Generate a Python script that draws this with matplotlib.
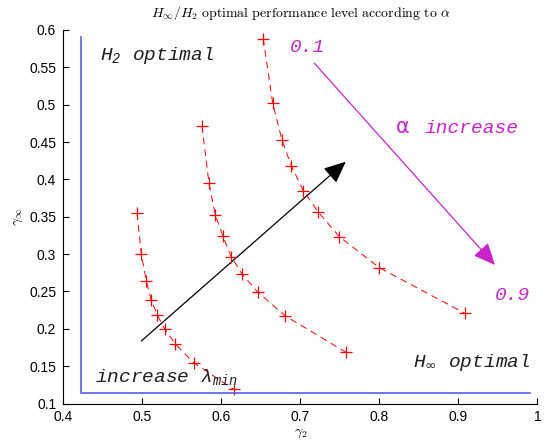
import numpy as np
import matplotlib
matplotlib.use('Agg')
import matplotlib.pyplot as plt
from matplotlib.patches import FancyArrowPatch

plt.rcParams['mathtext.fontset'] = 'custom'
plt.rcParams['mathtext.it'] = 'Liberation Mono:italic'
plt.rcParams['mathtext.rm'] = 'Liberation Mono:italic'
plt.rcParams['mathtext.sf'] = 'DejaVu Sans'

# gamma_2 / gamma_inf for three lambda_min values (alpha from 0.1 to 0.9)
g2_a = [0.4935, 0.4989, 0.5052, 0.5112, 0.5191, 0.5284, 0.5419, 0.5650, 0.6155]
ginf_a = [0.3546, 0.3001, 0.2640, 0.2390, 0.2185, 0.2001, 0.1797, 0.1547, 0.1190]
g2_b = [0.5756, 0.5845, 0.5924, 0.6021, 0.6126, 0.6262, 0.6464, 0.6812, 0.7579]
ginf_b = [0.4715, 0.3948, 0.3530, 0.3242, 0.2965, 0.2734, 0.2489, 0.2171, 0.1685]
g2_c = [0.6531, 0.6651, 0.6768, 0.6887, 0.7040, 0.7229, 0.7495, 0.8000, 0.9083]
ginf_c = [0.5886, 0.5019, 0.4528, 0.4180, 0.3847, 0.3560, 0.3233, 0.2818, 0.2207]

# H2 / Hinf optimal bounds
bound_x = [0.4227, 0.4227, 0.9900]
bound_y = [0.5902, 0.1145, 0.1145]

xticks = [0.4, 0.5, 0.6, 0.7, 0.8, 0.9, 1]
yticks = [0.1, 0.15, 0.2, 0.25, 0.3, 0.35, 0.4, 0.45, 0.5, 0.55, 0.6]

fig = plt.figure(figsize=(5.49, 4.41), dpi=100)
ax = fig.add_axes([0.115, 0.085, 0.864, 0.847])

for gx, gy in [(g2_a, ginf_a), (g2_b, ginf_b), (g2_c, ginf_c)]:
    ax.plot(gx, gy, '--', color='red', lw=0.7, dashes=(7, 5),
            marker='+', ms=8, mew=0.9)

ax.plot(bound_x, bound_y, color='#5a5aff', lw=1.2)

mag = '#cc22cc'
ax.add_patch(FancyArrowPatch((0.4989, 0.1837), (0.7575, 0.4237),
                             arrowstyle='-|>,head_length=0.9,head_width=0.4',
                             mutation_scale=15, color='black', lw=0.9,
                             shrinkA=0, shrinkB=0))
ax.add_patch(FancyArrowPatch((0.7179, 0.5554), (0.9462, 0.2854),
                             arrowstyle='-|>,head_length=0.9,head_width=0.4',
                             mutation_scale=15, color=mag, lw=0.9,
                             shrinkA=0, shrinkB=0))

tf = dict(family='Liberation Mono', style='italic', fontsize=14,
          math_fontfamily='custom')
ax.text(0.4471, 0.5598, r'$H_2$ optimal', color='#202020', **tf)
ax.text(0.8422, 0.1493, r'$H_{\mathsf{\infty}}$ optimal', color='#202020', **tf)
ax.text(0.4408, 0.1292, r'increase $\lambda_{min}$', color='#202020', **tf)
ax.text(0.6868, 0.571, '0.1', color=mag, **tf)
ax.text(0.9462, 0.2386, '0.9', color=mag, **tf)
ax.text(0.8211, 0.4617, 'α', color=mag, fontsize=15, family='DejaVu Sans')
ax.text(0.8578, 0.4617, 'increase', color=mag, **tf)

ax.set_xlim(0.4, 1.0)
ax.set_ylim(0.1, 0.6)
ax.set_xticks(xticks)
ax.set_yticks(yticks)
ax.set_xticklabels(['0.4', '0.5', '0.6', '0.7', '0.8', '0.9', '1'])
ax.set_yticklabels(['0.1', '0.15', '0.2', '0.25', '0.3', '0.35', '0.4',
                    '0.45', '0.5', '0.55', '0.6'])
for lab in ax.get_xticklabels() + ax.get_yticklabels():
    lab.set_family('Liberation Sans')
    lab.set_fontsize(10)
ax.tick_params(direction='in', length=4, width=0.8, pad=5)
ax.spines['top'].set_visible(False)
ax.spines['right'].set_visible(False)

ax.set_title(r'$H_\infty/H_2\ \mathrm{optimal\ performance\ level\ according\ to}\ \alpha$',
             fontsize=10, math_fontfamily='cm', pad=9)
ax.set_xlabel(r'$\gamma_2$', fontsize=10, math_fontfamily='cm', labelpad=1)
ax.set_ylabel(r'$\gamma_\infty$', fontsize=10, math_fontfamily='cm', labelpad=3)

fig.savefig('out.png', dpi=100)
